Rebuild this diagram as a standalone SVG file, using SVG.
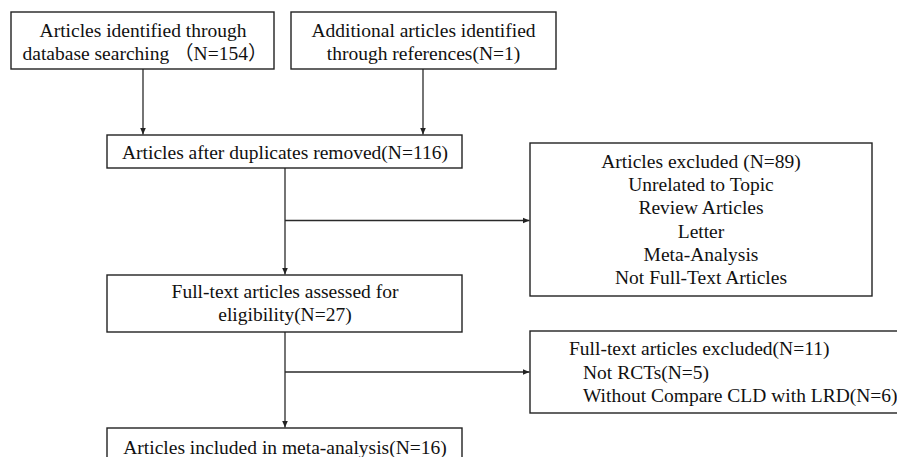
<svg xmlns="http://www.w3.org/2000/svg" width="897" height="457" viewBox="0 0 897 457">
<style>
.box{fill:#fff;stroke:#222;stroke-width:1.4}
.t{font-family:"Liberation Serif","Noto Sans CJK SC",serif;font-size:19.5px;fill:#111}
.c{text-anchor:middle}
.ln{stroke:#2a2a2a;stroke-width:1.3;fill:none}
</style>
<defs>
<marker id="ah" markerWidth="8" markerHeight="8" refX="7" refY="4" orient="auto" markerUnits="userSpaceOnUse">
<path d="M0,1 L7,4 L0,7 Z" fill="#222"/>
</marker>
</defs>
<rect width="897" height="457" fill="#fff"/>
<g id="connectors">
<line class="ln" x1="143" y1="69" x2="143" y2="134.5" marker-end="url(#ah)"/>
<line class="ln" x1="423" y1="69" x2="423" y2="134.5" marker-end="url(#ah)"/>
<line class="ln" x1="285" y1="168" x2="285" y2="274.5" marker-end="url(#ah)"/>
<line class="ln" x1="285" y1="220.5" x2="529.5" y2="220.5" marker-end="url(#ah)"/>
<line class="ln" x1="285" y1="332" x2="285" y2="427.5" marker-end="url(#ah)"/>
<line class="ln" x1="285" y1="372" x2="529.5" y2="372" marker-end="url(#ah)"/>
</g>
<g id="n1">
<rect class="box" x="11" y="12" width="263" height="57"/>
<text class="t c" x="143" y="36.5">Articles identified through</text>
<text class="t" x="22.5" y="60">database searching （N=154）</text>
</g>
<g id="n2">
<rect class="box" x="291" y="12" width="265" height="57"/>
<text class="t c" x="423.5" y="36.5">Additional articles identified</text>
<text class="t c" x="423.5" y="60">through references(N=1)</text>
</g>
<g id="n3">
<rect class="box" x="107" y="135" width="355" height="33"/>
<text class="t c" x="285" y="159">Articles after duplicates removed(N=116)</text>
</g>
<g id="n4">
<rect class="box" x="530" y="143" width="342" height="153"/>
<text class="t c" x="701" y="168">Articles excluded (N=89)</text>
<text class="t c" x="701" y="191">Unrelated to Topic</text>
<text class="t c" x="701" y="214">Review Articles</text>
<text class="t c" x="701" y="238">Letter</text>
<text class="t c" x="701" y="261">Meta-Analysis</text>
<text class="t c" x="701" y="284">Not Full-Text Articles</text>
</g>
<g id="n5">
<rect class="box" x="107" y="275" width="355" height="57"/>
<text class="t c" x="285" y="298">Full-text articles assessed for</text>
<text class="t c" x="285" y="321">eligibility(N=27)</text>
</g>
<g id="n6">
<rect class="box" x="530" y="331" width="380" height="82"/>
<text class="t" x="569" y="355">Full-text articles excluded(N=11)</text>
<text class="t" x="583" y="378.5">Not RCTs(N=5)</text>
<text class="t" x="583" y="402">Without Compare CLD with LRD(N=6)</text>
</g>
<g id="n7">
<rect class="box" x="107" y="428" width="355" height="40"/>
<text class="t c" x="285" y="454">Articles included in meta-analysis(N=16)</text>
</g>
</svg>
